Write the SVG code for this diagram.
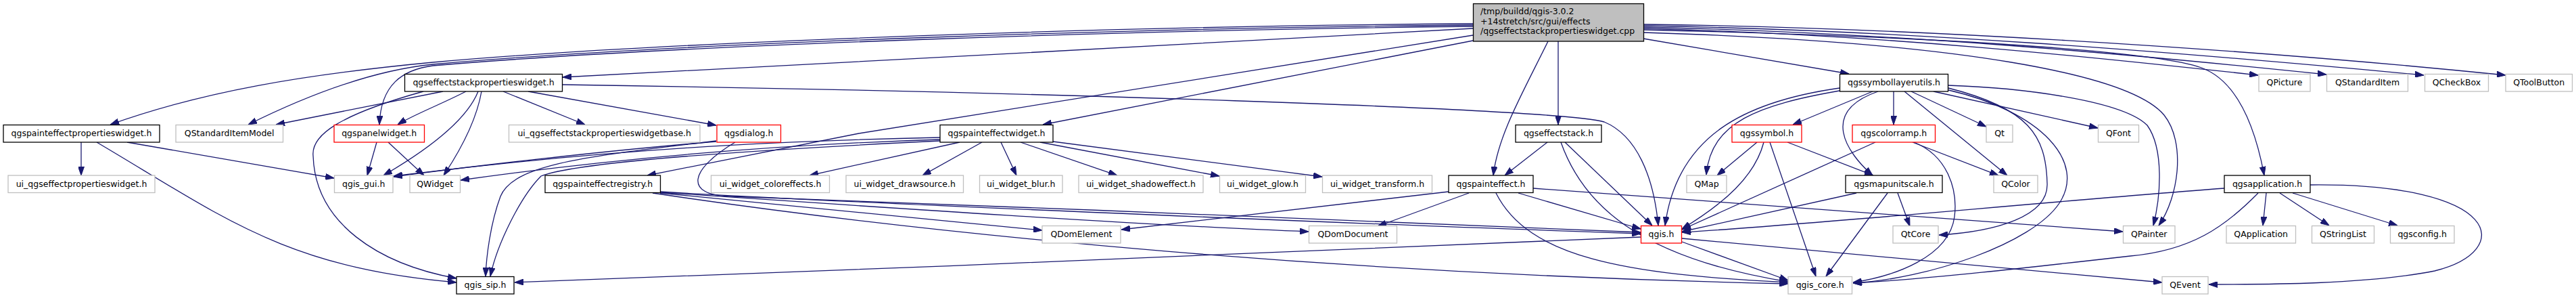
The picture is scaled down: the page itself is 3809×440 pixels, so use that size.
<svg xmlns="http://www.w3.org/2000/svg" width="3809" height="440" viewBox="0 0 3809 440">
<style>
.node rect{fill:#fff;stroke-width:1.3}
.k rect{stroke:#000}
.g rect{stroke:#bfbfbf}
.r rect{stroke:#ff0000}
.m rect{fill:#bfbfbf;stroke:#000}
text{font-family:"DejaVu Sans","Liberation Sans",sans-serif;font-size:12.5px;fill:#000;text-anchor:middle}
.m text{text-anchor:start}
#edges path{fill:none;stroke:#191970;stroke-width:1.3;marker-end:url(#ah)}
</style>
<defs>
<marker id="ah" viewBox="0 0 13 9" refX="13" refY="4.5" markerWidth="13" markerHeight="9" markerUnits="userSpaceOnUse" orient="auto">
<path d="M0,0 L13,4.5 L0,9 z" fill="#191970" stroke="#191970" stroke-width="1"/>
</marker>
</defs>
<rect width="3809" height="440" fill="#fff"/>
<g id="edges">
<path d="M2178,42 C1800,62 1200,96 832,114"/>
<path d="M2178,35 C1700,38 1000,60 640,92 C450,110 300,135 163,184"/>
<path d="M2178,37 C1700,41 1000,63 640,95 C560,103 470,133 367,184"/>
<path d="M2178,39 C1700,44 1000,66 640,97 C595,103 563,125 561,184"/>
<path d="M2178,52 L1270,197 C1150,220 1050,240 957,259"/>
<path d="M2178,60 L1542,184"/>
<path d="M2304,61 L2304,184"/>
<path d="M2289,61 C2250,140 2215,200 2208,259"/>
<path d="M2430,57 L2734,109"/>
<path d="M2430,42 C2800,52 3100,85 3339,111"/>
<path d="M2430,40 C2800,48 3150,80 3440,110"/>
<path d="M2430,38 C2800,44 3200,75 3584,111"/>
<path d="M2430,36 C2800,40 3300,70 3705,111"/>
<path d="M2430,44 C2950,56 3200,80 3255,100 S3335,190 3348,259"/>
<path d="M2430,48 C2900,62 3150,110 3200,170 C3232,210 3222,290 3192,333"/>
<path d="M744,135 L865,184"/>
<path d="M781,135 L1059,185"/>
<path d="M712,135 C705,175 682,220 656,259"/>
<path d="M707,135 C695,165 660,205 567,259"/>
<path d="M655,135 L408,184"/>
<path d="M689,135 C650,155 610,170 588,184"/>
<path d="M626,135 C500,170 460,200 463,230 C466,330 560,390 675,411"/>
<path d="M832,125 C1500,135 2300,160 2372,180 C2420,200 2445,260 2452,333"/>
<path d="M120,210 L120,259"/>
<path d="M188,210 L494,263"/>
<path d="M143,210 C330,320 420,395 675,417"/>
<path d="M557,210 L543,259"/>
<path d="M574,210 L627,259"/>
<path d="M1059,208 C880,230 760,240 740,290 C725,330 719,380 718,408"/>
<path d="M1059,209 C900,222 700,245 582,261"/>
<path d="M1087,210 C1020,250 1010,288 1080,290 C1500,305 2200,333 2426,343"/>
<path d="M976,283 C1300,302 2100,334 2426,345"/>
<path d="M976,285 L1541,340"/>
<path d="M976,284 C1300,306 1700,333 1935,342"/>
<path d="M965,285 C1400,350 2000,405 2644,419"/>
<path d="M2426,350 C2000,368 1300,398 761,417"/>
<path d="M2487,357 L2644,414"/>
<path d="M2487,352 C2800,380 3000,400 3197,417"/>
<path d="M1419,210 L1197,259"/>
<path d="M1452,210 L1364,259"/>
<path d="M1480,210 L1503,259"/>
<path d="M1509,210 L1652,259"/>
<path d="M1538,210 L1803,260"/>
<path d="M1557,209 L1955,261"/>
<path d="M1390,203 C1150,208 900,220 582,260"/>
<path d="M1390,206 C1200,212 950,228 681,266"/>
<path d="M1390,208 C1100,222 850,240 800,260 C770,290 735,360 725,408"/>
<path d="M2288,210 L2225,259"/>
<path d="M2314,210 L2443,333"/>
<path d="M2308,210 C2340,300 2420,380 2644,416"/>
<path d="M2172,285 L2037,334"/>
<path d="M2245,285 L2426,338"/>
<path d="M2212,285 C2260,380 2400,405 2644,417"/>
<path d="M2267,278 L3139,342"/>
<path d="M2142,283 L1658,339"/>
<path d="M2769,135 L2651,184"/>
<path d="M2800,135 L2800,184"/>
<path d="M2777,135 C2690,165 2730,225 2769,259"/>
<path d="M2826,135 L2937,187"/>
<path d="M2816,135 L2968,259"/>
<path d="M2859,135 L3102,189"/>
<path d="M2881,130 C3000,160 3025,200 3027,270 C3030,320 2950,342 2867,347"/>
<path d="M2881,133 C3020,165 3085,240 3045,300 C3005,360 2850,412 2740,418"/>
<path d="M2880,126 C3000,130 3140,150 3175,185 C3200,220 3195,290 3184,333"/>
<path d="M2720,134 C2600,155 2530,180 2523,258"/>
<path d="M2720,130 C2580,150 2480,200 2462,333"/>
<path d="M2598,210 L2539,259"/>
<path d="M2643,210 L2770,259"/>
<path d="M2608,210 C2595,260 2550,300 2487,338"/>
<path d="M2617,210 L2685,408"/>
<path d="M2828,210 L2955,259"/>
<path d="M2773,210 L2487,339"/>
<path d="M2830,210 C2880,230 2895,280 2890,320 C2882,380 2800,408 2740,417"/>
<path d="M2745,285 L2487,342"/>
<path d="M2806,285 L2824,334"/>
<path d="M2791,285 L2700,408"/>
<path d="M3351,285 L3346,333"/>
<path d="M3371,285 L3444,333"/>
<path d="M3390,285 L3545,333"/>
<path d="M3416,273 C3700,270 3720,370 3600,400 C3500,420 3350,420 3266,420"/>
<path d="M3339,285 C3290,335 3240,370 3150,378 C3000,395 2850,412 2740,418"/>
<path d="M3289,278 C3000,300 2700,330 2487,343"/>
</g>
<g id="n_main" class="node m"><rect x="2178.5" y="5.5" width="252" height="55.5"/><text x="2189" y="21">/tmp/buildd/qgis-3.0.2</text><text x="2189" y="35.5">+14stretch/src/gui/effects</text><text x="2189" y="50">/qgseffectstackpropertieswidget.cpp</text></g>
<g id="n_espw" class="node k"><rect x="598.5" y="109.5" width="233" height="25.5"/><text x="715" y="126.3">qgseffectstackpropertieswidget.h</text></g>
<g id="n_symlayerutils" class="node k"><rect x="2720.5" y="109.5" width="160" height="25.5"/><text x="2800.5" y="126.3">qgssymbollayerutils.h</text></g>
<g id="n_qpicture" class="node g"><rect x="3340" y="109.5" width="76" height="25.5"/><text x="3378" y="126.3">QPicture</text></g>
<g id="n_qstandarditem" class="node g"><rect x="3440.5" y="109.5" width="120" height="25.5"/><text x="3500.5" y="126.3">QStandardItem</text></g>
<g id="n_qcheckbox" class="node g"><rect x="3585.5" y="109.5" width="94" height="25.5"/><text x="3632.5" y="126.3">QCheckBox</text></g>
<g id="n_qtoolbutton" class="node g"><rect x="3705" y="109.5" width="98.5" height="25.5"/><text x="3754.2" y="126.3">QToolButton</text></g>
<g id="n_pepw" class="node k"><rect x="5" y="184.5" width="231" height="25.5"/><text x="120.5" y="201.3">qgspainteffectpropertieswidget.h</text></g>
<g id="n_qsim" class="node g"><rect x="260" y="184.5" width="158.5" height="25.5"/><text x="339.2" y="201.3">QStandardItemModel</text></g>
<g id="n_panel" class="node r"><rect x="494" y="184.5" width="133.5" height="25.5"/><text x="560.7" y="201.3">qgspanelwidget.h</text></g>
<g id="n_uibase" class="node g"><rect x="752.5" y="184.5" width="282.5" height="25.5"/><text x="893.7" y="201.3">ui_qgseffectstackpropertieswidgetbase.h</text></g>
<g id="n_dialog" class="node r"><rect x="1060" y="184.5" width="94.5" height="25.5"/><text x="1107.2" y="201.3">qgsdialog.h</text></g>
<g id="n_pewidget" class="node k"><rect x="1390" y="184.5" width="167" height="25.5"/><text x="1473.5" y="201.3">qgspainteffectwidget.h</text></g>
<g id="n_effectstack" class="node k"><rect x="2241" y="184.5" width="127" height="25.5"/><text x="2304.5" y="201.3">qgseffectstack.h</text></g>
<g id="n_symbol" class="node r"><rect x="2561" y="184.5" width="103" height="25.5"/><text x="2612.5" y="201.3">qgssymbol.h</text></g>
<g id="n_colorramp" class="node r"><rect x="2739" y="184.5" width="122.5" height="25.5"/><text x="2800.2" y="201.3">qgscolorramp.h</text></g>
<g id="n_qt" class="node g"><rect x="2937" y="184.5" width="39" height="25.5"/><text x="2956.5" y="201.3">Qt</text></g>
<g id="n_qfont" class="node g"><rect x="3102.5" y="184.5" width="60" height="25.5"/><text x="3132.5" y="201.3">QFont</text></g>
<g id="n_uiepw" class="node g"><rect x="12" y="259" width="217" height="25.5"/><text x="120.5" y="275.8">ui_qgseffectpropertieswidget.h</text></g>
<g id="n_qgisgui" class="node g"><rect x="494.5" y="259" width="86.5" height="25.5"/><text x="537.7" y="275.8">qgis_gui.h</text></g>
<g id="n_qwidget" class="node g"><rect x="606" y="259" width="74.5" height="25.5"/><text x="643.2" y="275.8">QWidget</text></g>
<g id="n_registry" class="node k"><rect x="806" y="259" width="170.5" height="25.5"/><text x="891.2" y="275.8">qgspainteffectregistry.h</text></g>
<g id="n_coloreffects" class="node g"><rect x="1051.5" y="259" width="175" height="25.5"/><text x="1139" y="275.8">ui_widget_coloreffects.h</text></g>
<g id="n_drawsource" class="node g"><rect x="1251" y="259" width="173.5" height="25.5"/><text x="1337.7" y="275.8">ui_widget_drawsource.h</text></g>
<g id="n_blur" class="node g"><rect x="1448.5" y="259" width="122.5" height="25.5"/><text x="1509.7" y="275.8">ui_widget_blur.h</text></g>
<g id="n_shadow" class="node g"><rect x="1595" y="259" width="184" height="25.5"/><text x="1687" y="275.8">ui_widget_shadoweffect.h</text></g>
<g id="n_glow" class="node g"><rect x="1803.5" y="259" width="127" height="25.5"/><text x="1867" y="275.8">ui_widget_glow.h</text></g>
<g id="n_transform" class="node g"><rect x="1955.5" y="259" width="162" height="25.5"/><text x="2036.5" y="275.8">ui_widget_transform.h</text></g>
<g id="n_painteffect" class="node k"><rect x="2142" y="259" width="125" height="25.5"/><text x="2204.5" y="275.8">qgspainteffect.h</text></g>
<g id="n_qmap" class="node g"><rect x="2494" y="259" width="59" height="25.5"/><text x="2523.5" y="275.8">QMap</text></g>
<g id="n_mapunitscale" class="node k"><rect x="2729" y="259" width="143" height="25.5"/><text x="2800.5" y="275.8">qgsmapunitscale.h</text></g>
<g id="n_qcolor" class="node g"><rect x="2948" y="259" width="65" height="25.5"/><text x="2980.5" y="275.8">QColor</text></g>
<g id="n_application" class="node k"><rect x="3289" y="259" width="127" height="25.5"/><text x="3352.5" y="275.8">qgsapplication.h</text></g>
<g id="n_qdomelement" class="node g"><rect x="1541" y="333.5" width="116" height="25.5"/><text x="1599" y="350.3">QDomElement</text></g>
<g id="n_qdomdocument" class="node g"><rect x="1935.5" y="333.5" width="130" height="25.5"/><text x="2000.5" y="350.3">QDomDocument</text></g>
<g id="n_qgis" class="node r"><rect x="2426.5" y="333.5" width="60" height="25.5"/><text x="2456.5" y="350.3">qgis.h</text></g>
<g id="n_qtcore" class="node g"><rect x="2799" y="333.5" width="67" height="25.5"/><text x="2832.5" y="350.3">QtCore</text></g>
<g id="n_qpainter" class="node g"><rect x="3139.5" y="333.5" width="76.5" height="25.5"/><text x="3177.7" y="350.3">QPainter</text></g>
<g id="n_qapplication" class="node g"><rect x="3292" y="333.5" width="102.5" height="25.5"/><text x="3343.2" y="350.3">QApplication</text></g>
<g id="n_qstringlist" class="node g"><rect x="3418.5" y="333.5" width="92" height="25.5"/><text x="3464.5" y="350.3">QStringList</text></g>
<g id="n_qgsconfig" class="node g"><rect x="3534.5" y="333.5" width="94.5" height="25.5"/><text x="3581.7" y="350.3">qgsconfig.h</text></g>
<g id="n_qgissip" class="node k"><rect x="675" y="408.5" width="85" height="25.5"/><text x="717.5" y="425.3">qgis_sip.h</text></g>
<g id="n_qgiscore" class="node g"><rect x="2644" y="408.5" width="94.5" height="25.5"/><text x="2691.2" y="425.3">qgis_core.h</text></g>
<g id="n_qevent" class="node g"><rect x="3197" y="408.5" width="68" height="25.5"/><text x="3231" y="425.3">QEvent</text></g>
</svg>
